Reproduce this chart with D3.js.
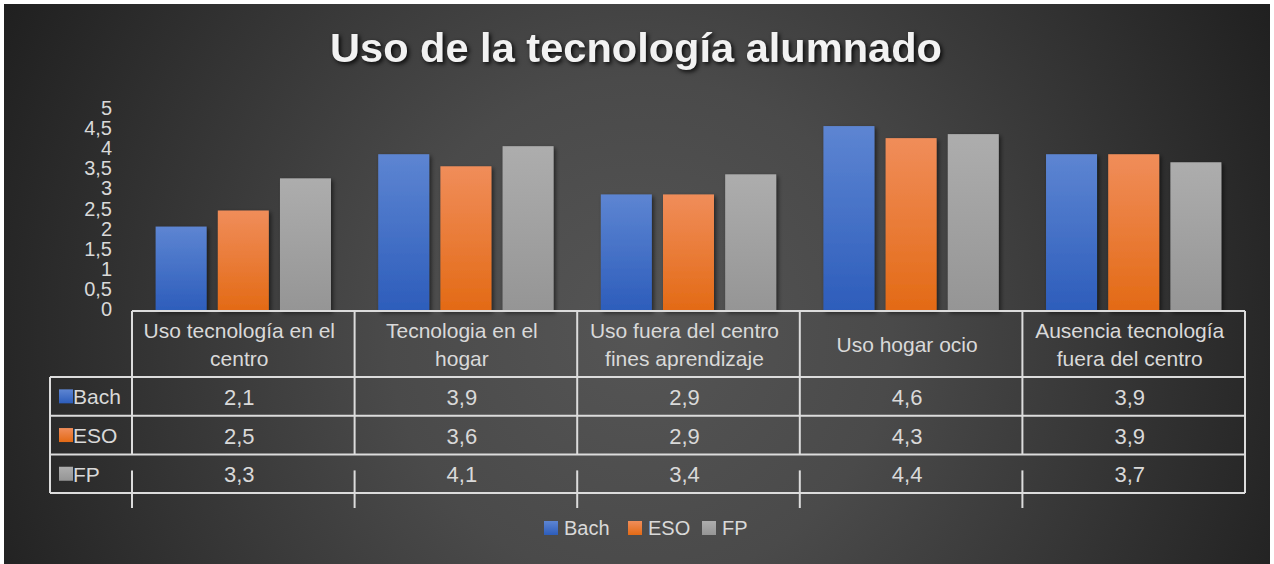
<!DOCTYPE html>
<html>
<head>
<meta charset="utf-8">
<script src="https://cdn.jsdelivr.net/npm/d3@7.9.0/dist/d3.min.js"></script>
<style>
  html, body { margin: 0; padding: 0; background: #fff; }
  svg { display: block; font-family: "Liberation Sans", Arial, sans-serif; }
</style>
</head>
<body>
<svg id="chart" width="1274" height="564"></svg>
<script>
const categories = [
  'Uso tecnología en el centro',
  'Tecnologia en el hogar',
  'Uso fuera del centro fines aprendizaje',
  'Uso hogar ocio',
  'Ausencia tecnología fuera del centro'
];
const seriesNames = ['Bach', 'ESO', 'FP'];
const bach = [2.1, 3.9, 2.9, 4.6, 3.9];
const eso = [2.5, 3.6, 2.9, 4.3, 3.9];
const fp = [3.3, 4.1, 3.4, 4.4, 3.7];
const yTicks = [0, 0.5, 1, 1.5, 2, 2.5, 3, 3.5, 4, 4.5, 5];

const seriesValues = [bach, eso, fp];
const colors = {
  Bach: ['#5d85d2', '#2d5dbb'],
  ESO: ['#f08d5a', '#e36a15'],
  FP: ['#adadad', '#959595']
};
const fmt = v => d3.format('.1f')(v).replace('.', ',');
const fmtTick = v => String(v).replace('.', ',');

const svg = d3.select('#chart');
const defs = svg.append('defs');

const bg = defs.append('radialGradient')
  .attr('id', 'bg').attr('gradientUnits', 'userSpaceOnUse')
  .attr('cx', 640).attr('cy', 330).attr('r', 720);
bg.append('stop').attr('offset', 0).attr('stop-color', '#555555');
bg.append('stop').attr('offset', 0.35).attr('stop-color', '#4a4a4a');
bg.append('stop').attr('offset', 1).attr('stop-color', '#1f1f1f');

seriesNames.forEach(s => {
  const g = defs.append('linearGradient').attr('id', 'grad-' + s)
    .attr('x1', 0).attr('y1', 0).attr('x2', 0).attr('y2', 1);
  g.append('stop').attr('offset', 0).attr('stop-color', colors[s][0]);
  g.append('stop').attr('offset', 1).attr('stop-color', colors[s][1]);
});

const shadow = defs.append('filter').attr('id', 'shadow')
  .attr('x', '-20%').attr('y', '-20%').attr('width', '150%').attr('height', '150%');
shadow.append('feDropShadow').attr('dx', 2).attr('dy', 2)
  .attr('stdDeviation', 2).attr('flood-color', '#000').attr('flood-opacity', 0.55);

const lineShadow = defs.append('filter').attr('id', 'lshadow')
  .attr('x', '-5%').attr('y', '-200%').attr('width', '110%').attr('height', '500%');
lineShadow.append('feDropShadow').attr('dx', 0).attr('dy', 1.5)
  .attr('stdDeviation', 1.2).attr('flood-color', '#000').attr('flood-opacity', 0.6);

// background panel
svg.append('rect').attr('x', 4).attr('y', 4).attr('width', 1266).attr('height', 560)
  .attr('fill', 'url(#bg)');

// title
svg.append('text')
  .attr('x', 636).attr('y', 62)
  .attr('text-anchor', 'middle')
  .attr('font-size', 40).attr('font-weight', 'bold')
  .attr('fill', '#f2f2f2')
  .attr('textLength', 612).attr('lengthAdjust', 'spacingAndGlyphs')
  .style('filter', 'drop-shadow(2px 2px 2px rgba(0,0,0,0.85))')
  .text('Uso de la tecnología alumnado');

// scales
const plotLeft = 132, plotRight = 1245;
const y = d3.scaleLinear().domain([0, 5]).range([311, 110]);
const x0 = d3.scaleBand().domain(categories).range([plotLeft, plotRight]);
const x1 = d3.scaleBand().domain(seriesNames).range([0, x0.bandwidth()])
  .paddingInner(0.18).paddingOuter(0.38);

// gridlines
svg.append('g').selectAll('line')
  .data(yTicks.filter(t => t > 0))
  .join('line')
  .attr('x1', plotLeft).attr('x2', plotRight)
  .attr('y1', d => y(d)).attr('y2', d => y(d))
  .attr('stroke', '#e4e4e4').attr('stroke-width', 2)
  .attr('filter', 'url(#lshadow)');

// y tick labels
svg.append('g').selectAll('text')
  .data(yTicks)
  .join('text')
  .attr('x', 112).attr('y', d => y(d) - 2)
  .attr('dy', '0.35em')
  .attr('text-anchor', 'end')
  .attr('font-size', 20).attr('fill', '#d9d9d9')
  .text(fmtTick);

// bars
const barData = [];
categories.forEach((c, i) => {
  seriesNames.forEach((s, j) => barData.push({ cat: c, series: s, value: seriesValues[j][i] }));
});
svg.append('g').selectAll('rect')
  .data(barData)
  .join('rect')
  .attr('x', d => x0(d.cat) + x1(d.series))
  .attr('y', d => y(d.value))
  .attr('width', x1.bandwidth())
  .attr('height', d => y(0) - y(d.value))
  .attr('fill', d => `url(#grad-${d.series})`)
  .attr('filter', 'url(#shadow)');

// data table
const lineColor = '#dcdcdc';
const headerTop = 311, rowTop = 377, rowH = 38.7;
const rowY = i => rowTop + i * rowH;
const tableBottom = rowY(3);
const table = svg.append('g').attr('stroke', lineColor).attr('stroke-width', 2);

table.append('line').attr('x1', plotLeft).attr('x2', plotRight)
  .attr('y1', headerTop).attr('y2', headerTop);
[0, 1, 2, 3].forEach(i => {
  table.append('line').attr('x1', 50).attr('x2', plotRight)
    .attr('y1', rowY(i)).attr('y2', rowY(i));
});
table.append('line').attr('x1', 50).attr('x2', 50).attr('y1', rowTop).attr('y2', tableBottom);
table.append('line').attr('x1', plotRight).attr('x2', plotRight).attr('y1', headerTop).attr('y2', tableBottom);
categories.forEach(c => {
  const xx = x0(c);
  table.append('line').attr('x1', xx).attr('x2', xx).attr('y1', headerTop).attr('y2', rowY(2));
  table.append('line').attr('x1', xx).attr('x2', xx).attr('y1', rowY(2) + 16).attr('y2', 508);
});

// header labels (wrapped)
const headG = svg.append('g').attr('font-size', 21).attr('fill', '#d9d9d9').attr('text-anchor', 'middle');
categories.forEach(c => {
  const cx = x0(c) + x0.bandwidth() / 2 - 4;
  const t = headG.append('text').attr('x', cx);
  const words = c.split(' ');
  const lines = [];
  let line = [];
  const probe = headG.append('text');
  words.forEach(w => {
    const trial = line.concat(w).join(' ');
    probe.text(trial);
    if (probe.node().getComputedTextLength() > 205 && line.length) {
      lines.push(line.join(' '));
      line = [w];
    } else {
      line.push(w);
    }
  });
  lines.push(line.join(' '));
  probe.remove();
  const lh = 28.5;
  const base = 345 + 7 - (lines.length - 1) * lh / 2;
  lines.forEach((l, k) => {
    t.append('tspan').attr('x', cx).attr('y', base + k * lh).text(l);
  });
});

// row labels and values
seriesNames.forEach((s, j) => {
  const cy = rowY(j) + rowH / 2;
  svg.append('rect').attr('x', 59).attr('y', cy - 7).attr('width', 14).attr('height', 14)
    .attr('fill', `url(#grad-${s})`);
  svg.append('text').attr('x', 73).attr('y', cy + 8)
    .attr('font-size', 21).attr('fill', '#d9d9d9').text(s);
  svg.append('g').selectAll('text')
    .data(seriesValues[j])
    .join('text')
    .attr('x', (d, i) => x0(categories[i]) + x0.bandwidth() / 2 - 4)
    .attr('y', cy + 8.5)
    .attr('text-anchor', 'middle')
    .attr('font-size', 22).attr('fill', '#d9d9d9')
    .text(fmt);
});

// legend
const legendX = [544, 628, 702];
const legend = svg.append('g');
seriesNames.forEach((s, j) => {
  legend.append('rect').attr('x', legendX[j]).attr('y', 521).attr('width', 14).attr('height', 14)
    .attr('fill', `url(#grad-${s})`);
  legend.append('text').attr('x', legendX[j] + 20).attr('y', 535)
    .attr('font-size', 20).attr('fill', '#d9d9d9').text(s);
});
</script>
</body>
</html>
